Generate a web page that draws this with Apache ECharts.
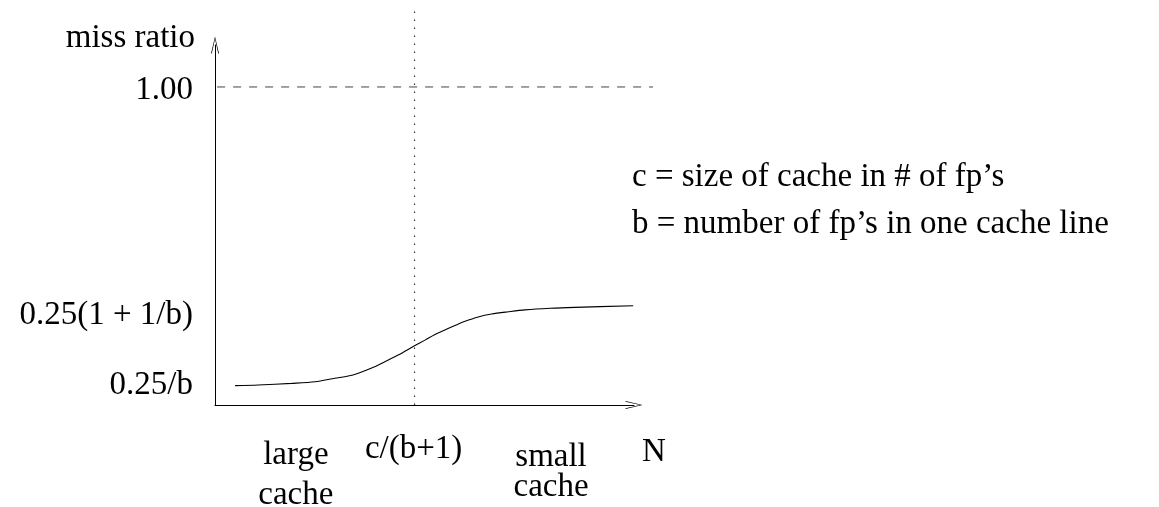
<!DOCTYPE html>
<html>
<head>
    <meta charset="utf-8">
    <title>miss ratio</title>
    <script src="https://cdn.jsdelivr.net/npm/echarts@6/dist/echarts.min.js"></script>
    <style>
        html, body { margin: 0; padding: 0; background: #fff; }
        #chart { width: 1159px; height: 507px; }
    </style>
</head>
<body>
<div id="chart"></div>
<script>
    // curve (x: 0..100 along the axis, y: miss ratio, 1.00 = dashed line)
    var curveX = [4.8, 10.3, 18.3, 23.9, 28.6, 31.8, 34.2, 37.4, 39.8, 43.7, 47.6, 50.1,
                  52.5, 54.9, 58.1, 60.5, 62.8, 66.0, 70.0, 74.0, 80.0, 85.9, 99.8];
    var curveY = [0.061, 0.063, 0.068, 0.073, 0.084, 0.091, 0.100, 0.116, 0.131, 0.157, 0.186, 0.204,
                  0.222, 0.236, 0.255, 0.267, 0.277, 0.286, 0.293, 0.299, 0.304, 0.307, 0.312];

    var yTickValues = [0.063, 0.283, 0.99];
    var yTickLabels = ['0.25/b', '0.25(1 + 1/b)', '1.00'];

    var xTickValues = [19.3, 47.4, 80.2];
    var xTickLabels = ['large\ncache', 'c/(b+1)', 'small\ncache'];

    // guide lines, same scale as the main axes but on a wider helper grid
    var ceilingLine = [[0.5, 1.0], [104.5, 1.0]];       // dashed, 1.00
    var markerLine = [[47.6, 0], [47.6, 1.242]];         // dotted, c/(b+1)

    var notes = ['c = size of cache in # of fp\u2019s', 'b = number of fp\u2019s in one cache line'];

    var FONT = '"Liberation Serif", "DejaVu Serif", serif';
    var FS = 33;
    var arrow = 'path://M0,17 L4,0 L8,17 L7.2,17 L4,2.5 L0.8,17 Z';

    var chart = echarts.init(document.getElementById('chart'), null, { renderer: 'canvas' });

    var points = curveX.map(function (x, i) { return [x, curveY[i]]; });

    var txt = { fontFamily: FONT, fontSize: FS, color: '#000' };

    var option = {
        animation: false,
        backgroundColor: '#fff',
        title: [
            { text: notes[0], left: 632, top: 161, padding: 0,
              textStyle: { fontFamily: FONT, fontSize: FS, fontWeight: 'normal', color: '#000' } },
            { text: notes[1], left: 632, top: 208, padding: 0,
              textStyle: { fontFamily: FONT, fontSize: FS, fontWeight: 'normal', color: '#000' } }
        ],
        grid: [
            { left: 215, top: 45, width: 419, bottom: 102, outerBoundsMode: 'none' },
            { left: 215, top: 10, width: 438, bottom: 102, outerBoundsMode: 'none' }
        ],
        xAxis: [{
            type: 'value',
            gridIndex: 0,
            min: 0, max: 100,
            name: '\nN',
            nameLocation: 'end',
            nameGap: 8,
            nameMoveOverlap: false,
            nameTextStyle: { fontFamily: FONT, fontSize: FS, color: '#000', align: 'left', verticalAlign: 'middle', lineHeight: 94 },
            axisLine: { show: true, symbol: ['none', arrow], symbolSize: [8, 17], lineStyle: { color: '#000', width: 1 } },
            axisTick: { show: false },
            splitLine: { show: false },
            axisLabel: {
                customValues: xTickValues,
                margin: 30,
                verticalAlign: 'top',
                fontFamily: FONT, fontSize: FS, color: '#000',
                formatter: function (v) {
                    var i = xTickValues.indexOf(v);
                    if (i === 0) return '{a|large}\n{a|cache}';
                    if (i === 2) return '{b|small}\n{c|cache}';
                    return '{d|' + xTickLabels[i] + '}';
                },
                rich: {
                    a: Object.assign({ lineHeight: 40 }, txt),
                    b: Object.assign({ lineHeight: 44 }, txt),
                    c: Object.assign({ lineHeight: 16 }, txt),
                    d: Object.assign({ lineHeight: 28 }, txt)
                }
            }
        }, {
            type: 'value',
            gridIndex: 1,
            min: 0, max: 104.5,
            show: false
        }],
        yAxis: [{
            type: 'value',
            gridIndex: 0,
            min: 0, max: 1.132,
            name: 'miss ratio',
            nameLocation: 'end',
            nameGap: 7,
            nameMoveOverlap: false,
            nameTextStyle: { fontFamily: FONT, fontSize: FS, color: '#000', align: 'right', verticalAlign: 'middle', padding: [0, 20, 0, 0] },
            axisLine: { show: true, symbol: ['none', arrow], symbolSize: [8, 17], lineStyle: { color: '#000', width: 1 } },
            axisTick: { show: false },
            splitLine: { show: false },
            axisLabel: {
                customValues: yTickValues,
                margin: 22,
                fontFamily: FONT, fontSize: FS, color: '#000',
                formatter: function (v) {
                    return yTickLabels[yTickValues.indexOf(v)];
                }
            }
        }, {
            type: 'value',
            gridIndex: 1,
            min: 0, max: 1.242,
            show: false
        }],
        series: [{
            type: 'line',
            xAxisIndex: 1, yAxisIndex: 1,
            data: ceilingLine,
            symbol: 'none',
            silent: true,
            lineStyle: { color: '#444', width: 1, type: [8, 8] }
        }, {
            type: 'line',
            xAxisIndex: 1, yAxisIndex: 1,
            data: markerLine,
            symbol: 'none',
            silent: true,
            lineStyle: { color: '#333', width: 1.2, type: [1.5, 6.5] }
        }, {
            type: 'line',
            xAxisIndex: 0, yAxisIndex: 0,
            data: points,
            smooth: 0.3,
            symbol: 'none',
            lineStyle: { color: '#000', width: 1.1 }
        }]
    };

    chart.setOption(option);

    window.onresize = function () {
        chart.resize();
    };
</script>
</body>
</html>
